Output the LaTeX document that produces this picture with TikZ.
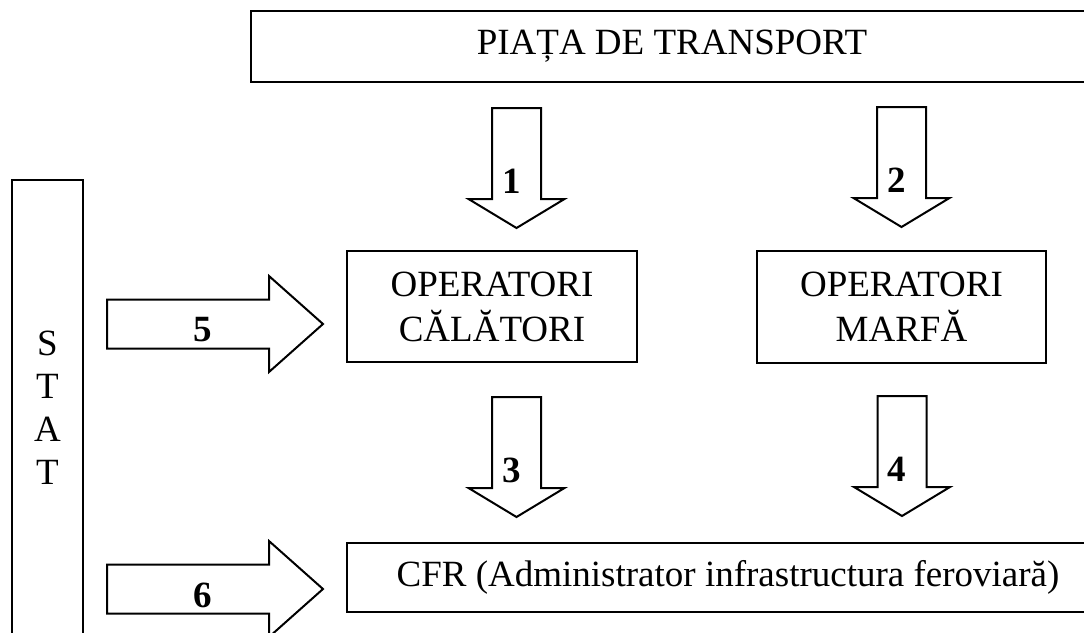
\documentclass[tikz,border=0pt]{standalone}
\usepackage{fontspec}
\setmainfont{Liberation Serif}
\begin{document}
\begin{tikzpicture}[x=1pt,y=-1pt,
  box/.style={draw, line width=2pt, fill=white, inner sep=0pt, align=center, font=\fontsize{37}{45}\selectfont},
  lbl/.style={font=\fontsize{37}{45}\selectfont\bfseries, inner sep=0pt},
  blk/.style={draw, line width=2pt, fill=white, line join=miter},
  darrow/.pic={
    \draw[blk] (-24.5,0) -- (24.5,0) -- (24.5,91) -- (48,91) -- (0,120) -- (-48,91) -- (-24.5,91) -- cycle;
    \node[lbl] (-lab) at (-5,73) {#1};
  },
  rarrow/.pic={
    \draw[blk] (0,-24.5) -- (162,-24.5) -- (162,-48) -- (216,0) -- (162,48) -- (162,24.5) -- (0,24.5) -- cycle;
    \node[lbl] (-lab) at (96,6) {#1};
  }
]
\useasboundingbox (0,0) rectangle (1084,632);
\clip (0,0) rectangle (1084,632);

\node[box, minimum width=842pt, minimum height=71pt] (piata) at (672,46.5) {PIAȚA DE TRANSPORT};
\node[box, minimum width=290pt, minimum height=111pt] (calatori) at (492,306.5) {OPERATORI\\CĂLĂTORI};
\node[box, minimum width=289pt, minimum height=112pt] (marfa) at (901.5,307) {OPERATORI\\MARFĂ};
\node[box, minimum width=762pt, minimum height=69pt] (cfr) at (728,577.5) {CFR (Administrator infrastructura feroviară)};
\node[box, minimum width=71pt, minimum height=456pt, font=\fontsize{37}{43}\selectfont] (stat) at (47.5,408) {S\\T\\A\\T};

\pic (a1) at (516.5,108) {darrow=1};
\pic (a2) at (901.5,107) {darrow=2};
\pic (a3) at (516.5,397) {darrow=3};
\pic (a4) at (902,396) {darrow=4};
\pic (a5) at (107,324) {rarrow=5};
\pic (a6) at (107,589) {rarrow=6};
\end{tikzpicture}
\end{document}
